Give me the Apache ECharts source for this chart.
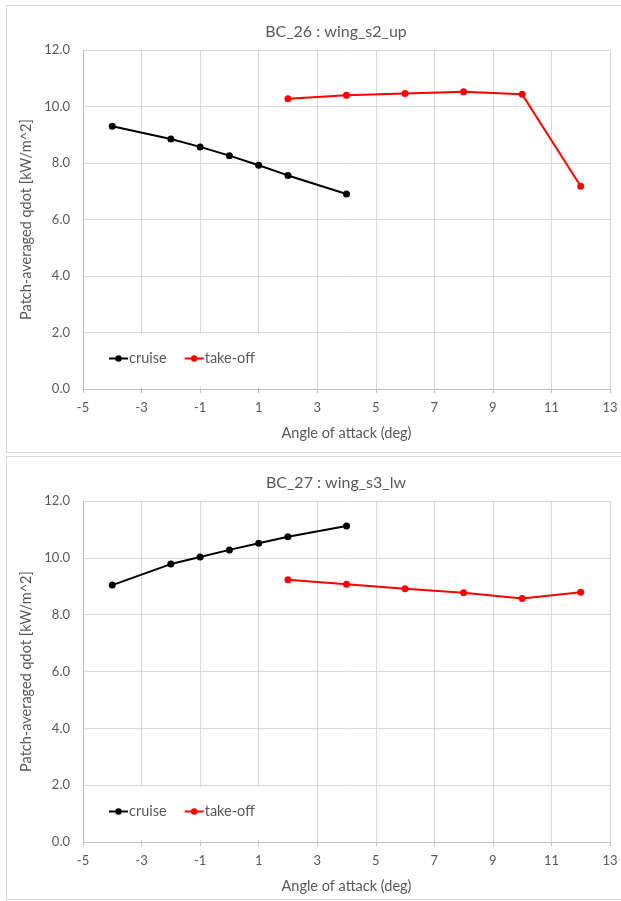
<!DOCTYPE html>
<html>
<head>
<meta charset="utf-8">
<script src="https://cdn.jsdelivr.net/npm/echarts@6/dist/echarts.min.js"></script>
<style>
  html, body { margin: 0; padding: 0; background: #fff; overflow: hidden; }
  .frame {
    position: absolute;
    left: 6px;
    width: 660px;
    border: 1px solid #d9d9d9;
    box-sizing: border-box;
  }
  .chart { width: 100%; height: 100%; }
</style>
</head>
<body>
<div class="frame" style="top: 5px; height: 448px;"><div id="chart26" class="chart"></div></div>
<div class="frame" style="top: 456px; height: 444px;"><div id="chart27" class="chart"></div></div>

<script>
// angle of attack (deg)
const aoaCruise = [-4, -2, -1, 0, 1, 2, 4]
const aoaTakeoff = [2, 4, 6, 8, 10, 12]

// BC_26 : wing_s2_up
const bc26Cruise = [9.30, 8.85, 8.57, 8.26, 7.92, 7.56, 6.90]
const bc26Takeoff = [10.27, 10.40, 10.46, 10.52, 10.43, 7.18]

// BC_27 : wing_s3_lw
const bc27Cruise = [9.04, 9.78, 10.03, 10.28, 10.51, 10.74, 11.12]
const bc27Takeoff = [9.23, 9.07, 8.91, 8.77, 8.57, 8.79]

const textColor = '#595959'
const gridColor = '#d9d9d9'
const font = 'Lato, "Open Sans", sans-serif'

const pairs = (xs, ys) => xs.map((x, i) => [x, ys[i]])

const makeOption = (title, cruise, takeoff, gridHeight, legendTop) => {
  const lineSeries = (name, color, data) => ({
    name: name,
    type: 'line',
    data: data,
    symbol: 'circle',
    symbolSize: 7,
    color: color,
    lineStyle: { color: color, width: 2 },
    itemStyle: { color: color },
    emphasis: { disabled: true },
    animation: false,
  })
  return {
    textStyle: { fontFamily: font },
    title: {
      text: title,
      left: 324,
      top: 13,
      textAlign: 'center',
      textStyle: { fontFamily: font, fontSize: 16, fontWeight: 'normal', color: textColor },
    },
    // white box behind the legend, hides the grid lines like in the original
    graphic: [{
      type: 'rect',
      left: 83,
      top: legendTop,
      shape: { width: 185, height: 53 },
      style: { fill: '#fff' },
      z: 3,
      silent: true,
    }],
    grid: { left: 76, top: 44, width: 527, height: gridHeight },
    legend: {
      left: 101,
      top: legendTop + 17,
      padding: 0,
      itemWidth: 19,
      itemHeight: 8,
      itemGap: 17,
      textStyle: { fontFamily: font, fontSize: 14.5, color: textColor, padding: [0, 0, 0, -4] },
      data: ['cruise', 'take-off'],
    },
    xAxis: {
      type: 'value',
      min: -5,
      max: 13,
      interval: 2,
      name: 'Angle of attack (deg)',
      nameLocation: 'middle',
      nameGap: 37,
      nameTextStyle: { fontFamily: font, fontSize: 14.5, color: textColor },
      axisLine: { show: true, onZero: false, lineStyle: { color: '#bfbfbf' } },
      axisTick: { show: true, length: 4, lineStyle: { color: '#bfbfbf' } },
      axisLabel: { fontFamily: font, fontSize: 13, color: textColor, margin: 12 },
      splitLine: { show: true, lineStyle: { color: gridColor } },
    },
    yAxis: {
      type: 'value',
      min: 0,
      max: 12,
      interval: 2,
      name: 'Patch-averaged qdot [kW/m^2]',
      nameLocation: 'middle',
      nameGap: 45,
      nameTextStyle: { fontFamily: font, fontSize: 14.5, color: textColor },
      axisLine: { show: true, onZero: false, lineStyle: { color: '#bfbfbf' } },
      axisTick: { show: false },
      axisLabel: {
        fontFamily: font,
        fontSize: 13,
        color: textColor,
        margin: 13,
        formatter: (v) => v.toFixed(1),
      },
      splitLine: { show: true, lineStyle: { color: gridColor } },
    },
    series: [
      lineSeries('cruise', '#000000', pairs(aoaCruise, cruise)),
      lineSeries('take-off', '#ff0000', pairs(aoaTakeoff, takeoff)),
    ],
  }
}

const initChart = (id, option) => {
  echarts.init(document.getElementById(id), null, { renderer: 'canvas' }).setOption(option)
}

initChart('chart26', makeOption('BC_26 : wing_s2_up', bc26Cruise, bc26Takeoff, 339, 328))
initChart('chart27', makeOption('BC_27 : wing_s3_lw', bc27Cruise, bc27Takeoff, 341, 330))
</script>
</body>
</html>
